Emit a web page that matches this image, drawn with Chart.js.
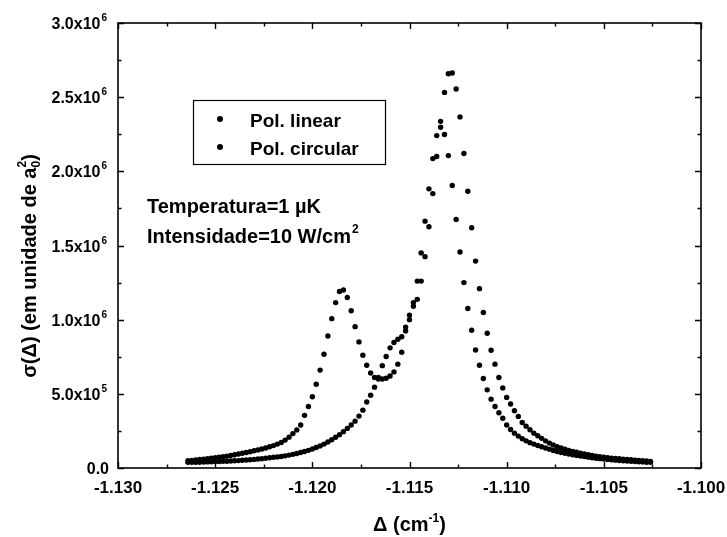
<!DOCTYPE html>
<html>
<head>
<meta charset="utf-8">
<script src="https://cdn.jsdelivr.net/npm/chart.js@4.4.1/dist/chart.umd.min.js"></script>
<style>
  html, body { margin: 0; padding: 0; background: #fff; }
  canvas { display: block; }
</style>
</head>
<body>
<canvas id="c" width="727" height="537"></canvas>
<script>
// detuning grid (cm^-1), same sampling for both curves
const deltas = [
  -1.1264,-1.1262,-1.1260,-1.1258,-1.1256,-1.1254,-1.1252,-1.1250,-1.1248,-1.1246,
  -1.1244,-1.1242,-1.1240,-1.1238,-1.1236,-1.1234,-1.1232,-1.1230,-1.1228,-1.1226,
  -1.1224,-1.1222,-1.1220,-1.1218,-1.1216,-1.1214,-1.1212,-1.1210,-1.1208,-1.1206,
  -1.1204,-1.1202,-1.1200,-1.1198,-1.1196,-1.1194,-1.1192,-1.1190,-1.1188,-1.1186,
  -1.1184,-1.1182,-1.1180,-1.1178,-1.1176,-1.1174,-1.1172,-1.1170,-1.1168,-1.1166,
  -1.1164,-1.1162,-1.1160,-1.1158,-1.1156,-1.1154,-1.1152,-1.1150,-1.1148,-1.1146,
  -1.1144,-1.1142,-1.1140,-1.1138,-1.1136,-1.1134,-1.1132,-1.1130,-1.1128,-1.1126,
  -1.1124,-1.1122,-1.1120,-1.1118,-1.1116,-1.1114,-1.1112,-1.1110,-1.1108,-1.1106,
  -1.1104,-1.1102,-1.1100,-1.1098,-1.1096,-1.1094,-1.1092,-1.1090,-1.1088,-1.1086,
  -1.1084,-1.1082,-1.1080,-1.1078,-1.1076,-1.1074,-1.1072,-1.1070,-1.1068,-1.1066,
  -1.1064,-1.1062,-1.1060,-1.1058,-1.1056,-1.1054,-1.1052,-1.1050,-1.1048,-1.1046,
  -1.1044,-1.1042,-1.1040,-1.1038,-1.1036,-1.1034,-1.1032,-1.1030,-1.1028,-1.1026
];

// sigma values in units of 1e6 a0^2
const sigmaLinear = [
  0.049,0.051,0.055,0.057,0.060,0.063,0.066,0.069,0.072,0.076,
  0.080,0.084,0.089,0.094,0.099,0.105,0.110,0.116,0.122,0.128,
  0.135,0.143,0.151,0.161,0.172,0.188,0.208,0.232,0.257,0.290,
  0.355,0.415,0.480,0.565,0.660,0.767,0.890,1.007,1.115,1.190,
  1.200,1.149,1.060,0.953,0.850,0.760,0.693,0.640,0.610,0.600,
  0.600,0.605,0.620,0.648,0.700,0.780,0.950,1.030,1.115,1.260,
  1.450,1.664,1.882,2.086,2.241,2.337,2.532,2.658,2.663,2.555,
  2.367,2.120,1.866,1.620,1.395,1.209,1.048,0.908,0.794,0.700,
  0.610,0.540,0.476,0.431,0.386,0.348,0.307,0.282,0.258,0.235,
  0.217,0.200,0.183,0.168,0.155,0.144,0.135,0.127,0.119,0.112,
  0.106,0.100,0.094,0.089,0.084,0.080,0.076,0.072,0.069,0.066,
  0.064,0.062,0.060,0.058,0.056,0.053,0.051,0.049,0.047,0.045
];

const sigmaCircular = [
  0.038,0.038,0.039,0.039,0.040,0.041,0.042,0.043,0.044,0.045,
  0.046,0.047,0.049,0.050,0.052,0.054,0.056,0.058,0.061,0.063,
  0.066,0.069,0.072,0.075,0.078,0.082,0.087,0.092,0.098,0.104,
  0.111,0.119,0.128,0.138,0.149,0.161,0.175,0.190,0.207,0.225,
  0.245,0.267,0.290,0.316,0.350,0.390,0.445,0.490,0.545,0.610,
  0.690,0.752,0.810,0.846,0.868,0.885,0.924,1.000,1.090,1.137,
  1.260,1.425,1.626,1.850,2.100,2.297,2.248,2.106,1.905,1.676,
  1.456,1.250,1.075,0.929,0.796,0.693,0.603,0.527,0.464,0.415,
  0.372,0.335,0.290,0.260,0.235,0.215,0.197,0.183,0.171,0.161,
  0.152,0.143,0.135,0.127,0.118,0.111,0.105,0.099,0.094,0.089,
  0.085,0.081,0.077,0.073,0.069,0.066,0.063,0.060,0.058,0.055,
  0.053,0.051,0.049,0.047,0.045,0.044,0.042,0.041,0.039,0.038
];

const seriesNames = ['Pol. linear', 'Pol. circular'];

const xTicks = [-1.130, -1.125, -1.120, -1.115, -1.110, -1.105, -1.100];
const xTickLabels = ['-1.130', '-1.125', '-1.120', '-1.115', '-1.110', '-1.105', '-1.100'];
const yTicks = [0, 0.5e6, 1.0e6, 1.5e6, 2.0e6, 2.5e6, 3.0e6];
const yTickMantissa = ['0.0', '5.0x10', '1.0x10', '1.5x10', '2.0x10', '2.5x10', '3.0x10'];
const yTickExp = ['', '5', '6', '6', '6', '6', '6'];

const FONT = '"Liberation Sans", Arial, Helvetica, sans-serif';

function toPoints(ys) {
    return deltas.map((d, i) => ({ x: d, y: ys[i] * 1e6 }));
}

// frame, inward ticks, labels, legend and notes
const decorations = {
    id: 'decorations',
    afterDraw(chart) {
        const ctx = chart.ctx;
        const a = chart.chartArea;
        const xs = chart.scales.x, ys = chart.scales.y;
        ctx.save();
        ctx.strokeStyle = '#000';
        ctx.fillStyle = '#000';

        // frame
        ctx.lineWidth = 1.6;
        ctx.strokeRect(a.left, a.top, a.right - a.left, a.bottom - a.top);

        // x ticks (major + minor), bottom and top
        ctx.lineWidth = 1.4;
        for (let k = 0; k < xTicks.length; k++) {
            const px = Math.round(xs.getPixelForValue(xTicks[k])) + 0.5;
            ctx.beginPath();
            ctx.moveTo(px, a.bottom); ctx.lineTo(px, a.bottom - 6);
            ctx.moveTo(px, a.top); ctx.lineTo(px, a.top + 6);
            ctx.stroke();
            if (k < xTicks.length - 1) {
                const pm = Math.round(xs.getPixelForValue((xTicks[k] + xTicks[k + 1]) / 2)) + 0.5;
                ctx.beginPath();
                ctx.moveTo(pm, a.bottom); ctx.lineTo(pm, a.bottom - 3.5);
                ctx.moveTo(pm, a.top); ctx.lineTo(pm, a.top + 3.5);
                ctx.stroke();
            }
        }
        // y ticks, left and right
        for (let k = 0; k < yTicks.length; k++) {
            const py = Math.round(ys.getPixelForValue(yTicks[k])) + 0.5;
            ctx.beginPath();
            ctx.moveTo(a.left, py); ctx.lineTo(a.left + 6, py);
            ctx.moveTo(a.right, py); ctx.lineTo(a.right - 6, py);
            ctx.stroke();
            if (k < yTicks.length - 1) {
                const pm = Math.round(ys.getPixelForValue((yTicks[k] + yTicks[k + 1]) / 2)) + 0.5;
                ctx.beginPath();
                ctx.moveTo(a.left, pm); ctx.lineTo(a.left + 3.5, pm);
                ctx.moveTo(a.right, pm); ctx.lineTo(a.right - 3.5, pm);
                ctx.stroke();
            }
        }

        // x tick labels
        ctx.font = 'bold 17px ' + FONT;
        ctx.textAlign = 'center';
        ctx.textBaseline = 'alphabetic';
        xTicks.forEach((v, k) => {
            ctx.fillText(xTickLabels[k], xs.getPixelForValue(v), a.bottom + 25);
        });

        // y tick labels with superscript exponent
        const rightEdge = a.left - 11;
        yTicks.forEach((v, k) => {
            const py = ys.getPixelForValue(v);
            ctx.font = 'bold 10px ' + FONT;
            const expW = yTickExp[k] ? ctx.measureText(yTickExp[k]).width + 1 : -2;
            ctx.font = 'bold 16px ' + FONT;
            ctx.textAlign = 'right';
            ctx.fillText(yTickMantissa[k], rightEdge - expW, py + 6);
            if (yTickExp[k]) {
                ctx.font = 'bold 10px ' + FONT;
                ctx.textAlign = 'left';
                ctx.fillText(yTickExp[k], rightEdge - expW + 1, py - 2);
            }
        });

        // x title: Δ (cm^-1)
        ctx.textAlign = 'left';
        ctx.font = 'bold 20px ' + FONT;
        const t1 = 'Δ (cm', t2 = '-1', t3 = ')';
        ctx.font = 'bold 12px ' + FONT;
        const w2 = ctx.measureText(t2).width;
        ctx.font = 'bold 20px ' + FONT;
        const w1 = ctx.measureText(t1).width, w3 = ctx.measureText(t3).width;
        let tx = (a.left + a.right) / 2 - (w1 + w2 + w3) / 2;
        const tyb = 531;
        ctx.fillText(t1, tx, tyb); tx += w1;
        ctx.font = 'bold 12px ' + FONT;
        ctx.fillText(t2, tx, tyb - 9); tx += w2;
        ctx.font = 'bold 20px ' + FONT;
        ctx.fillText(t3, tx, tyb);

        // y title: σ(Δ) (em unidade de a0^2), rotated
        ctx.save();
        ctx.translate(36, 266);
        ctx.rotate(-Math.PI / 2);
        const y1 = 'σ(Δ) (em unidade de a', ySub = '0', ySup = '2', y3 = ')';
        ctx.font = 'bold 20px ' + FONT;
        const wy1 = ctx.measureText(y1).width, wy3 = ctx.measureText(y3).width;
        ctx.font = 'bold 12px ' + FONT;
        const wsub = ctx.measureText(ySub).width;
        let ty = -(wy1 + wsub + wy3) / 2;
        ctx.font = 'bold 20px ' + FONT;
        ctx.fillText(y1, ty, 0); ty += wy1;
        ctx.font = 'bold 12px ' + FONT;
        ctx.fillText(ySub, ty, 4);
        ctx.fillText(ySup, ty, -10); ty += wsub;
        ctx.font = 'bold 20px ' + FONT;
        ctx.fillText(y3, ty, 0);
        ctx.restore();

        // legend box
        ctx.lineWidth = 1.2;
        ctx.strokeRect(193.5, 100.5, 192, 64);
        const legendY = [119, 147];
        seriesNames.forEach((name, k) => {
            ctx.beginPath();
            ctx.arc(220, legendY[k], 3, 0, Math.PI * 2);
            ctx.fill();
            ctx.font = 'bold 19px ' + FONT;
            ctx.textAlign = 'left';
            ctx.fillText(name, 250, legendY[k] + 8);
        });

        // notes
        ctx.font = 'bold 20px ' + FONT;
        ctx.fillText('Temperatura=1 µK', 147, 213);
        const n2 = 'Intensidade=10 W/cm';
        ctx.fillText(n2, 147, 243);
        const wn2 = ctx.measureText(n2).width;
        ctx.font = 'bold 12px ' + FONT;
        ctx.fillText('2', 147 + wn2 + 1, 233);

        ctx.restore();
    }
};

new Chart(document.getElementById('c'), {
    type: 'scatter',
    data: {
        datasets: [
            {
                label: seriesNames[0],
                data: toPoints(sigmaLinear),
                pointRadius: 2.7,
                pointBackgroundColor: '#000',
                pointBorderWidth: 0,
                showLine: false
            },
            {
                label: seriesNames[1],
                data: toPoints(sigmaCircular),
                pointRadius: 2.7,
                pointBackgroundColor: '#000',
                pointBorderWidth: 0,
                showLine: false
            }
        ]
    },
    options: {
        responsive: false,
        devicePixelRatio: 1,
        animation: false,
        layout: { padding: { left: 118, right: 26, top: 23, bottom: 69 } },
        plugins: {
            legend: { display: false },
            tooltip: { enabled: false }
        },
        scales: {
            x: { type: 'linear', min: -1.130, max: -1.100, display: false },
            y: { type: 'linear', min: 0, max: 3.0e6, display: false }
        }
    },
    plugins: [decorations]
});
</script>
</body>
</html>
